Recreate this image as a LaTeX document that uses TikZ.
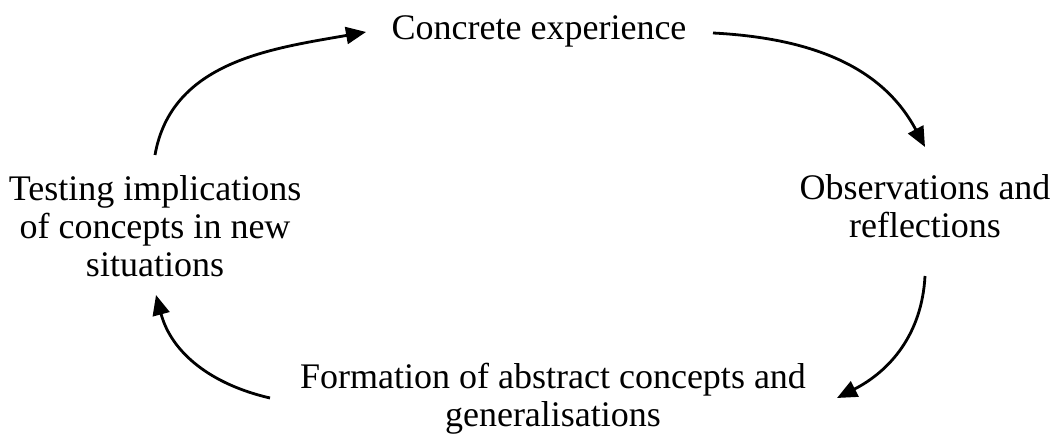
\documentclass[tikz,border=0pt]{standalone}
\usepackage{fontspec}
\setmainfont{Liberation Serif}
\usetikzlibrary{arrows.meta}
\begin{document}
\begin{tikzpicture}[x=1pt,y=1pt,
  lbl/.style={font=\fontsize{36}{38}\selectfont, align=center, inner sep=0pt, anchor=base},
  cyc/.style={line width=2.8pt, -{Triangle[length=20pt,width=17pt]}}]
\fill[white] (0,0) rectangle (1052,435);
\useasboundingbox (0,0) rectangle (1052,435);
% base anchor of a multi-line node is the baseline of its last line
\node[lbl] (ce) at (539,395) {Concrete experience};
\node[lbl] (obs) at (925,197) {Observations and\\reflections};
\node[lbl] (form) at (553,8.5) {Formation of abstract concepts and\\generalisations};
\node[lbl] (test) at (155,158) {Testing implications\\of concepts in new\\situations};
\coordinate (test-out) at (155,280);
\coordinate (ce-in) at (366,403);
\coordinate (ce-out) at (713,402);
\coordinate (obs-in) at (925,288);
\coordinate (obs-out) at (925,159);
\coordinate (form-in) at (837,37);
\coordinate (form-out) at (270,37);
\coordinate (test-in) at (156,140);
\draw[cyc] (test-out) to[out=80,in=190] (ce-in);
\draw[cyc] (ce-out) to[out=-3,in=118] (obs-in);
\draw[cyc] (obs-out) to[out=-93,in=27] (form-in);
\draw[cyc] (form-out) to[out=167,in=-75] (test-in);
\end{tikzpicture}
\end{document}
